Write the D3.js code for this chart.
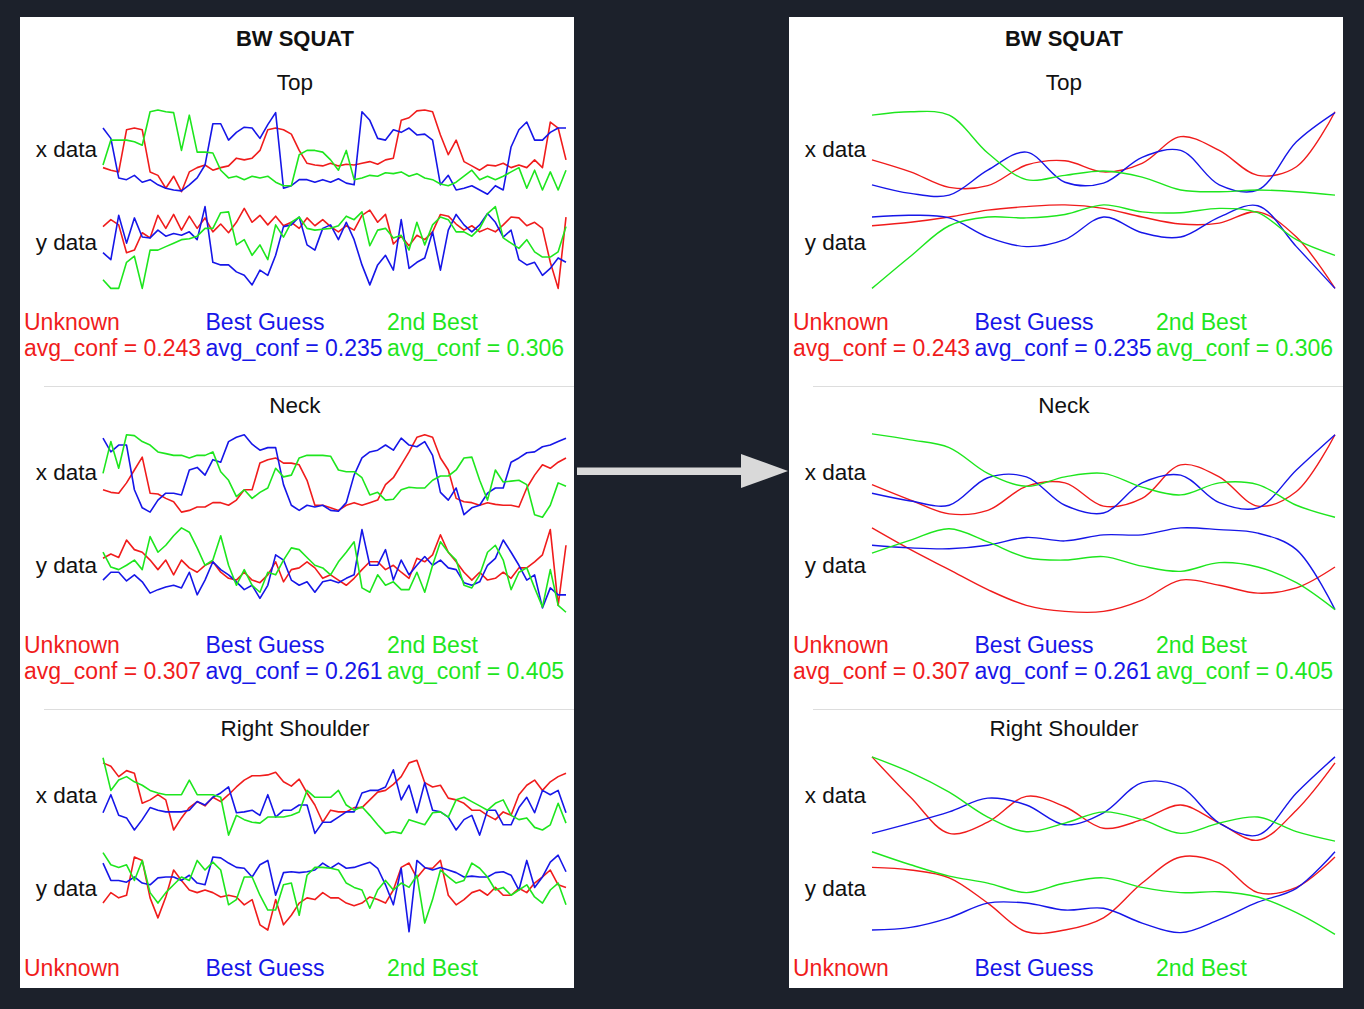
<!DOCTYPE html>
<html>
<head>
<meta charset="utf-8">
<script src="https://cdn.jsdelivr.net/npm/d3@7"></script>
<style>
  html, body { margin: 0; padding: 0; background: #1c212b; }
  svg { display: block; }
</style>
</head>
<body>
<div id="chart"></div>
<script>
// section names and legend entries
const sections = ["Top", "Neck", "Right Shoulder"];
const seriesNames = ["Unknown", "Best Guess", "2nd Best"];
// avg_conf per section (the last row is cut off in the picture)
const avgConf = [
  [0.243, 0.235, 0.306],
  [0.307, 0.261, 0.405]
];

// raw keypoint traces, normalised 0..100 per row, order: Unknown, Best Guess, 2nd Best
const rawTopX = [
  [33,30,28,77,79,77,28,24,9,23,5,28,33,36,30,33,35,44,42,44,53,77,79,77,72,53,38,36,35,38,35,37,36,38,40,37,42,44,88,91,99,100,98,71,48,65,40,35,30,36,35,38,33,36,33,42,33,86,79,42],
  [79,67,21,19,24,16,19,13,9,7,6,13,21,36,84,84,65,74,80,79,67,83,97,9,12,19,19,16,19,16,20,15,13,98,88,67,65,77,74,79,71,72,65,13,24,7,9,12,7,2,12,7,57,77,86,65,65,74,79,79],
  [36,65,65,65,63,59,98,100,98,97,53,94,51,51,50,30,21,23,19,23,21,23,16,12,12,48,53,53,51,42,30,53,19,21,24,23,27,26,28,23,26,21,19,14,12,16,23,30,19,23,19,23,28,33,9,30,7,28,7,30]
];
const rawTopY = [
  [74,82,76,44,47,67,61,87,72,88,70,86,72,84,68,77,67,79,95,79,87,76,86,75,79,72,84,75,82,74,68,75,70,87,93,79,88,54,63,52,64,59,68,88,86,77,70,75,68,72,68,76,85,84,75,79,72,33,3,85],
  [44,36,87,55,84,62,61,70,63,66,64,68,59,97,33,30,30,22,18,7,24,18,41,74,76,85,53,47,72,76,59,79,59,30,7,30,41,24,82,26,33,38,68,24,70,88,76,68,76,89,79,62,70,36,30,33,18,26,38,33],
  [13,3,3,33,40,3,47,47,51,55,59,60,63,72,72,90,91,53,59,41,53,36,76,62,79,85,72,70,71,72,75,86,82,91,52,70,72,61,64,47,79,53,76,85,82,68,68,63,72,89,97,61,55,49,59,45,39,39,45,74]
];
const rawNeckX = [
  [34,31,30,42,57,72,30,29,24,20,8,10,14,14,19,19,16,22,34,34,65,69,71,65,65,63,45,16,16,13,10,16,19,16,19,22,40,48,63,78,95,98,95,71,57,24,20,19,16,19,17,16,16,14,36,51,63,59,66,71],
  [94,78,86,86,34,13,8,22,30,30,28,57,60,51,69,66,90,95,98,87,80,83,83,40,16,10,16,14,16,10,9,19,51,71,78,80,86,80,94,86,84,90,74,31,22,36,5,13,16,30,36,36,66,71,77,78,84,86,90,94],
  [53,90,59,98,97,90,86,78,76,74,74,71,74,74,78,55,45,26,34,24,31,36,59,49,51,71,74,74,74,73,57,55,55,48,28,31,22,23,34,37,36,36,45,50,50,57,71,72,45,22,57,43,44,45,40,5,2,16,42,38]
];
const rawNeckY = [
  [64,69,65,85,74,71,62,51,62,45,62,53,48,56,60,48,41,39,48,39,36,45,60,37,51,53,60,53,41,45,39,33,41,51,60,60,51,56,48,41,64,60,68,91,71,60,48,39,48,39,41,48,41,53,53,60,68,97,10,79],
  [39,48,48,38,45,37,24,28,31,33,30,48,22,39,60,51,45,37,28,33,18,33,68,62,39,33,37,25,37,39,36,41,45,97,56,56,74,39,62,45,56,66,56,62,53,51,36,33,37,56,64,85,71,56,39,45,7,30,22,22],
  [71,54,51,56,62,51,89,71,79,90,99,94,76,56,62,90,56,33,51,33,25,48,45,62,76,74,65,56,53,45,60,71,83,30,25,45,33,37,28,28,48,25,56,83,71,62,33,30,45,71,79,62,28,48,53,30,8,51,10,2]
];
const rawShoulderX = [
  [92,88,76,83,80,45,49,55,49,14,28,40,47,42,52,47,55,64,72,77,77,78,81,70,65,73,57,43,23,37,35,35,40,40,49,58,60,67,76,92,95,69,64,66,51,49,45,37,37,31,26,35,31,55,66,72,60,70,76,80],
  [34,55,31,28,14,26,40,37,35,35,35,37,47,43,52,57,64,34,35,37,31,55,29,37,37,43,43,10,23,23,29,35,35,57,60,60,64,84,49,66,34,69,37,35,29,14,26,31,8,37,37,20,20,40,52,34,60,55,60,34],
  [98,60,72,76,70,66,60,57,55,55,55,72,55,55,55,52,8,31,26,23,22,29,29,29,31,35,60,52,52,52,60,43,37,41,31,20,10,12,10,26,23,20,34,35,29,49,52,47,42,37,45,49,31,26,28,17,14,20,45,22]
];
const rawShoulderY = [
  [39,51,45,48,92,88,45,22,46,77,65,54,51,54,51,46,48,46,37,43,14,8,43,14,25,39,45,43,51,45,45,39,36,39,46,43,39,54,80,85,68,79,79,88,48,37,43,51,54,48,57,48,48,56,51,62,69,77,60,57],
  [85,65,65,63,69,62,60,68,69,69,65,71,62,60,92,91,85,80,79,69,83,88,48,74,75,74,75,77,85,79,85,79,80,83,86,79,60,37,79,6,88,80,77,80,77,74,69,70,69,69,74,75,71,54,88,57,69,86,94,75],
  [97,83,80,83,65,88,51,39,51,60,69,65,88,77,86,77,37,43,69,69,48,31,31,60,62,25,71,80,80,79,77,62,57,54,33,54,65,54,62,57,71,16,43,77,69,62,65,85,79,69,54,57,48,54,60,46,39,54,62,37]
];

// smoothed traces (same rows), sampled at 13 evenly spaced frames
const smoothTopX = [
  [42,28,10,12,36,41,28,38,69,53,24,34,98],
  [13,3,1,30,51,16,15,45,53,13,7,63,97],
  [94,98,94,50,19,24,29,22,7,5,7,5,1]
];
const smoothTopY = [
  [75,79,85,93,97,99,95,85,77,78,91,62,3],
  [85,87,84,62,51,59,85,67,62,85,98,51,3],
  [3,40,75,85,84,88,99,91,90,95,90,59,41]
];
const smoothNeckX = [
  [40,22,6,10,38,42,15,24,63,49,15,32,98],
  [30,21,16,48,49,16,7,42,51,19,13,57,98],
  [99,92,83,53,38,49,53,37,28,42,40,16,2]
];
const smoothNeckY = [
  [99,74,51,28,10,3,3,16,39,33,24,30,54],
  [79,76,75,79,88,84,91,91,99,97,93,74,5],
  [70,85,98,83,65,62,66,55,49,59,54,36,5]
];
const smoothShoulderX = [
  [99,52,10,23,53,41,16,26,43,22,2,37,92],
  [10,22,35,51,43,20,34,69,64,22,8,57,99],
  [99,81,58,29,12,22,35,26,10,22,29,12,1]
];
const smoothShoulderY = [
  [80,77,68,39,6,8,22,62,92,85,51,57,92],
  [8,11,22,39,39,31,33,16,5,20,40,56,98],
  [98,83,70,62,51,62,68,57,51,52,46,28,3]
];

const rawRows = [[rawTopX, rawTopY], [rawNeckX, rawNeckY], [rawShoulderX, rawShoulderY]];
const smoothRows = [[smoothTopX, smoothTopY], [smoothNeckX, smoothNeckY], [smoothShoulderX, smoothShoulderY]];

const colors = ["#f01c1c", "#1616e8", "#1ee61e"];
const font = "'Liberation Sans', Arial, Helvetica, sans-serif";

const W = 1364, H = 1009;
const panelTop = 17, panelBottom = 988;
const sectionStep = 323;

const svg = d3.select("#chart").append("svg")
  .attr("width", W).attr("height", H);

svg.append("rect").attr("width", W).attr("height", H).attr("fill", "#1c212b");

function drawPanel(px, pw, rows, lw, curve, id) {
  svg.append("clipPath").attr("id", id)
    .append("rect").attr("x", px).attr("y", panelTop).attr("width", pw).attr("height", panelBottom - panelTop);

  const g = svg.append("g").attr("clip-path", `url(#${id})`);
  g.append("rect").attr("x", px).attr("y", panelTop).attr("width", pw).attr("height", panelBottom - panelTop)
    .attr("fill", "#ffffff");

  const p = g.append("g").attr("transform", `translate(${px},0)`);

  p.append("text").attr("x", 275).attr("y", 46).attr("text-anchor", "middle")
    .attr("font-family", font).attr("font-size", 22).attr("font-weight", "bold").attr("fill", "#111")
    .text("BW SQUAT");

  const xs0 = 83, xs1 = 546;
  const bands = [[110, 196], [204, 291]];
  const rowLabels = ["x data", "y data"];
  const labelBase = [157, 250];

  sections.forEach((name, si) => {
    const s = si * sectionStep;

    p.append("text").attr("x", 275).attr("y", 90 + s).attr("text-anchor", "middle")
      .attr("font-family", font).attr("font-size", 22.5).attr("fill", "#111")
      .text(name);

    rows[si].forEach((row, ri) => {
      p.append("text").attr("x", 77).attr("y", labelBase[ri] + s).attr("text-anchor", "end")
        .attr("font-family", font).attr("font-size", 22.5).attr("fill", "#111")
        .text(rowLabels[ri]);

      const n = row[0].length;
      const x = d3.scaleLinear().domain([0, n - 1]).range([xs0, xs1]);
      const y = d3.scaleLinear().domain([0, 100]).range([bands[ri][1] + s, bands[ri][0] + s]);
      const line = d3.line().x((d, i) => x(i)).y(d => y(d)).curve(curve);

      row.forEach((vals, k) => {
        p.append("path").datum(vals)
          .attr("d", line)
          .attr("fill", "none")
          .attr("stroke", colors[k])
          .attr("stroke-width", lw)
          .attr("stroke-linejoin", "round");
      });
    });

    // legend
    const colX = [4, 185.5, 367];
    seriesNames.forEach((nm, k) => {
      p.append("text").attr("x", colX[k]).attr("y", 330 + s)
        .attr("font-family", font).attr("font-size", 23).attr("fill", colors[k])
        .text(nm);
      if (avgConf[si]) {
        p.append("text").attr("x", colX[k]).attr("y", 356 + s)
          .attr("font-family", font).attr("font-size", 23).attr("fill", colors[k])
          .text("avg_conf = " + avgConf[si][k].toFixed(3));
      }
    });

    if (si < sections.length - 1) {
      p.append("line").attr("x1", 24).attr("x2", pw).attr("y1", 386.5 + s).attr("y2", 386.5 + s)
        .attr("stroke", "#dddddd").attr("stroke-width", 1);
    }
  });
}

drawPanel(20, 554, rawRows, 1.6, d3.curveLinear, "clipL");
drawPanel(789, 554, smoothRows, 1.4, d3.curveCatmullRom.alpha(0.5), "clipR");

// arrow between the panels
const arrow = svg.append("g").attr("fill", "#d9d9d9");
arrow.append("rect").attr("x", 577).attr("y", 467.5).attr("width", 166).attr("height", 7.5);
arrow.append("path").attr("d", d3.line()([[741, 454], [788, 471], [741, 488]]) + "Z");
</script>
</body>
</html>
